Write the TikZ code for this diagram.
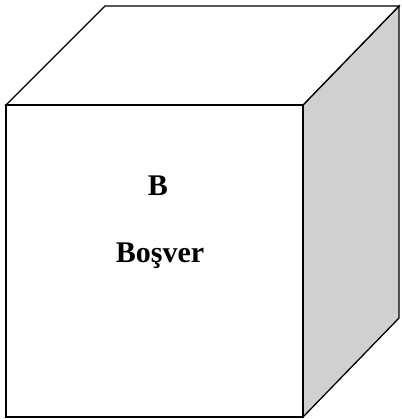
\documentclass[tikz,border=0pt]{standalone}
\usepackage{fontspec}
\setmainfont{Liberation Serif}
\definecolor{sidegray}{HTML}{D0D0D0}
\begin{document}
\begin{tikzpicture}[x=1pt,y=-1pt,
  edge/.style={draw=black,line width=1.3pt,line join=miter},
  label/.style={font=\fontsize{30}{34}\selectfont\bfseries,inner sep=0pt,anchor=base}]
\useasboundingbox (0,0) rectangle (401,419);
\coordinate (ftl) at (6,105);
\coordinate (ftr) at (303,105);
\coordinate (fbl) at (6,417);
\coordinate (fbr) at (303,417);
\coordinate (btl) at (105,6);
\coordinate (btr) at (399,6);
\coordinate (bbr) at (399,318);
\filldraw[edge,fill=sidegray] (ftr) -- (btr) -- (bbr) -- (fbr) -- cycle;
\draw[edge,fill=white] (ftl) -- (btl) -- (btr) -- (ftr) -- cycle;
\draw[edge,fill=white] (ftl) rectangle (fbr);
\node[label] (b) at (158,196) {B};
\node[label] (bosver) at (160,262) {Boşver};
\end{tikzpicture}
\end{document}
